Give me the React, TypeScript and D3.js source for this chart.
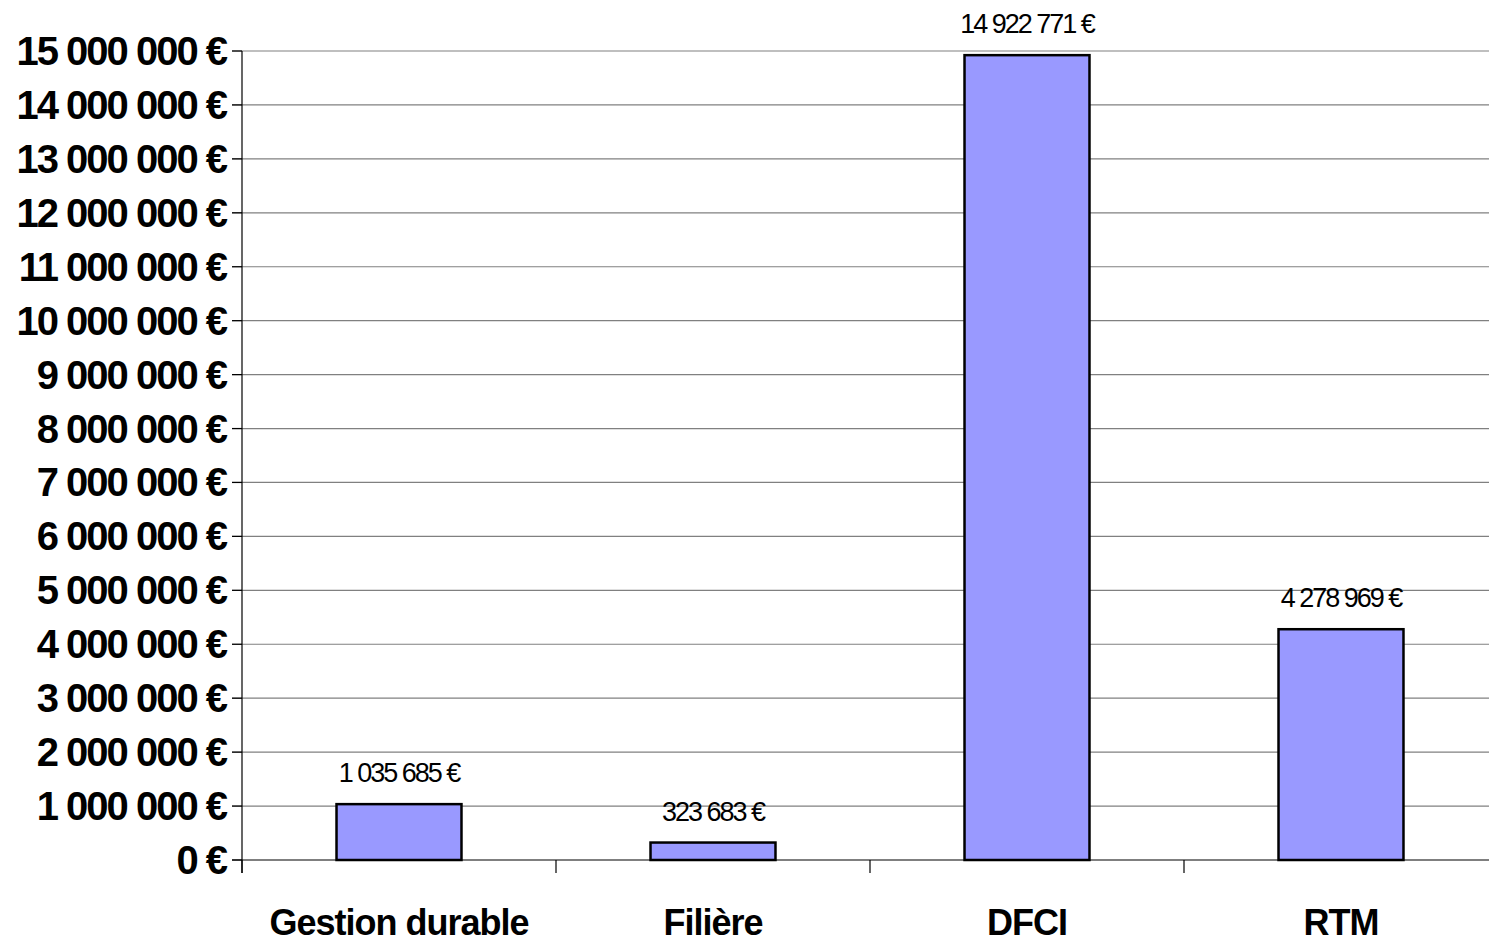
import React from "react";
import * as d3 from "d3";

const categories = ["Gestion durable", "Filière", "DFCI", "RTM"];
const values = [1035685, 323683, 14922771, 4278969];
const yTicks = [0, 1000000, 2000000, 3000000, 4000000, 5000000, 6000000, 7000000, 8000000, 9000000, 10000000, 11000000, 12000000, 13000000, 14000000, 15000000];

const W = 1489;
const H = 944;

const fmt = (v: number) =>
  String(Math.round(v)).replace(/\B(?=(\d{3})+(?!\d))/g, " ") + " €";

export default function App() {
  const x = d3
    .scaleBand<string>()
    .domain(categories)
    .range([242, 1498])
    .paddingInner(0.602)
    .paddingOuter(0.301);
  const y = d3.scaleLinear().domain([0, 15000000]).range([860, 51]);
  const step = x.step();
  const catEdges = d3.range(categories.length + 1).map((i) => 242 + i * step);

  return (
    <svg
      width={W}
      height={H}
      style={{ position: "absolute", left: 0, top: 0, display: "block", background: "#fff" }}
      fontFamily="'Liberation Sans', Arial, sans-serif"
    >
      {yTicks.map((t) => (
        <g key={t}>
          <line
            x1={232}
            x2={1498}
            y1={y(t)}
            y2={y(t)}
            stroke={t === 0 ? "#000" : "#808080"}
            strokeWidth={1.2}
          />
          <line x1={232} x2={242} y1={y(t)} y2={y(t)} stroke="#000" strokeWidth={1.2} />
          <text
            x={226}
            y={y(t) + 14}
            textAnchor="end"
            fontSize={40}
            fontWeight="bold"
            letterSpacing={-2}
            fill="#000"
          >
            {fmt(t)}
          </text>
        </g>
      ))}
      <line x1={242} x2={242} y1={51} y2={873} stroke="#000" strokeWidth={1.2} />
      {catEdges.map((e, i) => (
        <line key={i} x1={e} x2={e} y1={860} y2={873} stroke="#000" strokeWidth={1.2} />
      ))}
      {categories.map((c, i) => (
        <g key={c}>
          <rect
            x={x(c)}
            y={y(values[i])}
            width={x.bandwidth()}
            height={y(0) - y(values[i])}
            fill="#9999FF"
            stroke="#000"
            strokeWidth={2.5}
          />
          <text
            x={(x(c) as number) + x.bandwidth() / 2}
            y={y(values[i]) - 22}
            textAnchor="middle"
            fontSize={27}
            letterSpacing={-2}
            fill="#000"
          >
            {fmt(values[i])}
          </text>
          <text
            x={(x(c) as number) + x.bandwidth() / 2}
            y={935}
            textAnchor="middle"
            fontSize={36}
            fontWeight="bold"
            letterSpacing={-1}
            fill="#000"
          >
            {c}
          </text>
        </g>
      ))}
    </svg>
  );
}
